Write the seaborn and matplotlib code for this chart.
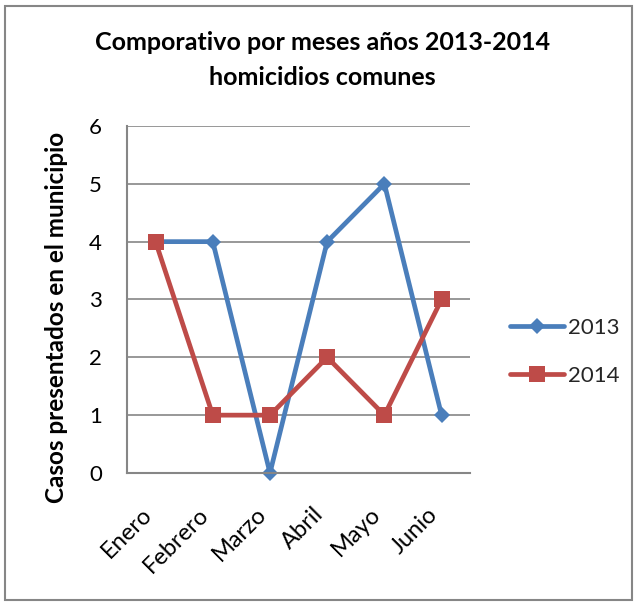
import matplotlib
matplotlib.use("Agg")
import matplotlib.pyplot as plt
import seaborn as sns
import pandas as pd
from matplotlib.patches import Rectangle

months = ["Enero", "Febrero", "Marzo", "Abril", "Mayo", "Junio"]
vals_2013 = [4, 4, 0, 4, 5, 1]
vals_2014 = [4, 1, 1, 2, 1, 3]
yticks = [0, 1, 2, 3, 4, 5, 6]

df = pd.DataFrame({
    "Mes": months * 2,
    "Casos": vals_2013 + vals_2014,
    "Año": ["2013"] * len(months) + ["2014"] * len(months),
})

sns.set_style("white")
plt.rcParams["font.family"] = ["Lato", "DejaVu Sans"]

fig = plt.figure(figsize=(6.38, 6.03), dpi=100)
ax = fig.add_axes([0.199, 0.2156, 0.538, 0.5755])

palette = {"2013": "#4A7EBB", "2014": "#BE4B48"}
sns.lineplot(data=df, x="Mes", y="Casos", hue="Año", style="Año",
             markers={"2013": "D", "2014": "s"}, dashes=False,
             palette=palette, linewidth=3.4, markersize=10,
             markeredgewidth=0, ax=ax, sort=False, legend=True)

msizes = {"D": 7.8, "s": 12}
for ln in ax.lines:
    m = ln.get_marker()
    if isinstance(m, str) and m in msizes:
        ln.set_markersize(msizes[m])
    ln.set_clip_on(False)

ax.set_xlim(-0.5, 5.5)
ax.set_ylim(0, 6)
ax.set_yticks(yticks)
ax.yaxis.grid(True, color="#868686", linewidth=1.2)
ax.set_axisbelow(True)
for s in ["top", "right"]:
    ax.spines[s].set_visible(False)
for s in ["left", "bottom"]:
    ax.spines[s].set_color("#868686")
    ax.spines[s].set_linewidth(1.5)
ax.tick_params(axis="y", length=0, pad=18, labelsize=16, labelcolor="black")
ax.tick_params(axis="x", length=0, pad=22, labelsize=17, labelcolor="black")
plt.setp(ax.get_xticklabels(), rotation=45, ha="right", va="top")
ax.set_xlabel("")
ax.set_ylabel("Casos presentados en el municipio", fontsize=17.5, fontweight="bold",
              color="black")
ax.yaxis.set_label_coords(-0.172, 0.447)
fig.text(0.505, 0.9005, "Comporativo por meses años 2013-2014\nhomicidios comunes",
         ha="center", va="center", fontsize=18, fontweight="bold", linespacing=1.6,
         color="black")

leg = ax.legend(loc="center left", bbox_to_anchor=(501 / 638, 1 - 352 / 603),
                bbox_transform=fig.transFigure, borderaxespad=0, frameon=False,
                fontsize=16, handlelength=2.43, labelspacing=1.25, handletextpad=0.18)
for ln in leg.get_lines():
    m = ln.get_marker()
    if isinstance(m, str) and m in msizes:
        ln.set_markersize(msizes[m])
    ln.set_linewidth(3.4)

fig.patches.append(Rectangle((5 / 638, 3 / 603), 627 / 638, 594 / 603,
                             transform=fig.transFigure, fill=False,
                             edgecolor="#868686", linewidth=1.5))

fig.savefig("out.png", dpi=100)
